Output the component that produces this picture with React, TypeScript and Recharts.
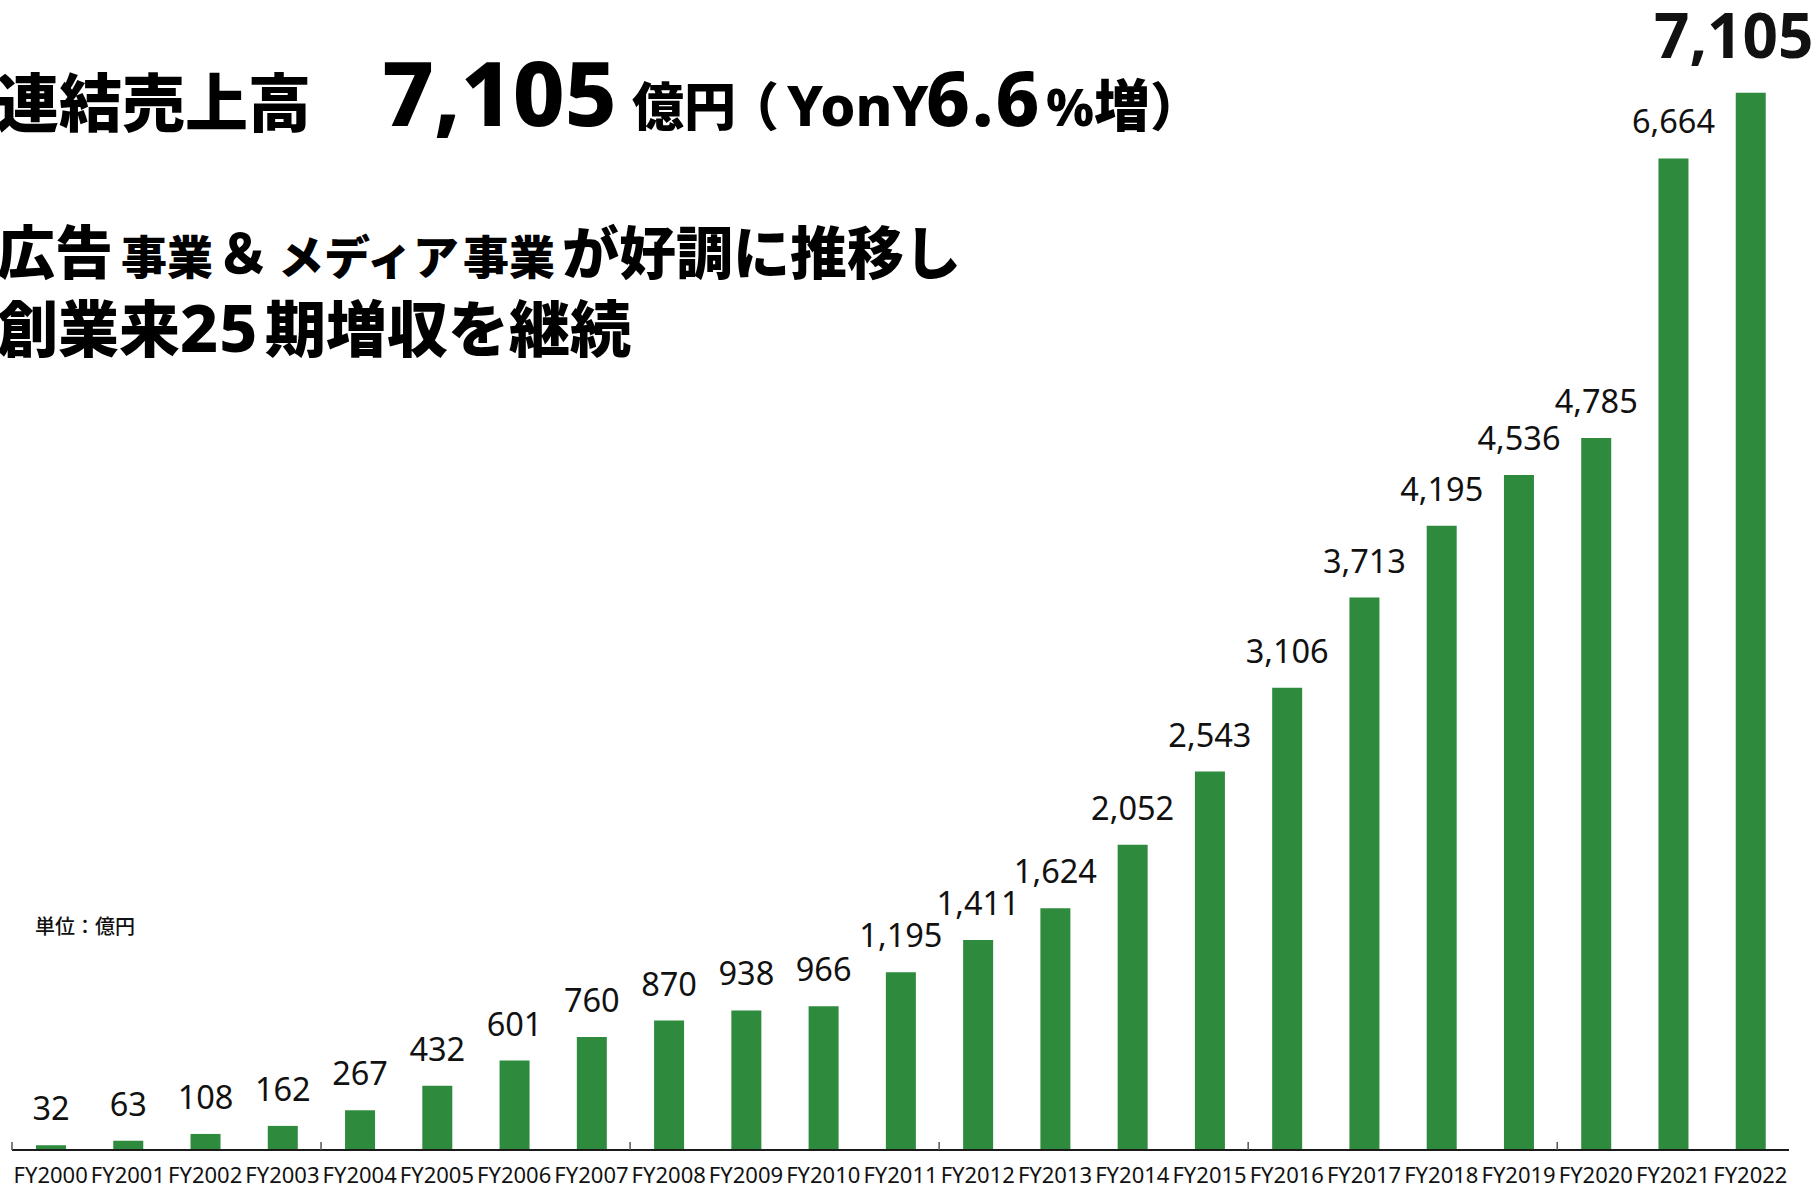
import React from "react";
import { BarChart, Bar, XAxis, YAxis, LabelList } from "recharts";

// 連結売上高（億円）
const years = [
  "FY2000", "FY2001", "FY2002", "FY2003", "FY2004", "FY2005", "FY2006", "FY2007",
  "FY2008", "FY2009", "FY2010", "FY2011", "FY2012", "FY2013", "FY2014", "FY2015",
  "FY2016", "FY2017", "FY2018", "FY2019", "FY2020", "FY2021", "FY2022",
];
const sales = [
  32, 63, 108, 162, 267, 432, 601, 760, 870, 938, 966, 1195,
  1411, 1624, 2052, 2543, 3106, 3713, 4195, 4536, 4785, 6664, 7105,
];

const data = years.map((fy, i) => ({ fy, sales: sales[i] }));

const W = 1816;
const H = 1184;
const margin = { top: 34, right: 27, left: 12, bottom: 0 };
const band = (W - margin.left - margin.right) / years.length;
const GREEN = "#2E8B3D";
const CJK = "'Noto Sans CJK JP', 'Noto Sans', sans-serif";
const LATIN = "'Noto Sans', sans-serif";

const FyTick = (props: any) => {
  const { x, y, index, payload } = props;
  return (
    <g>
      {index % 4 === 0 && (
        <line x1={x - band / 2} x2={x - band / 2} y1={y} y2={y - 8} stroke="#555" strokeWidth={1.5} />
      )}
      <text x={x} y={y + 33} textAnchor="middle" fontSize={22} fill="#111" fontFamily={LATIN}>
        {payload.value}
      </text>
    </g>
  );
};

const ValueLabel = (props: any) => {
  const { x, y, width, value, index } = props;
  const last = index === sales.length - 1;
  return (
    <text
      x={x + width / 2 - (last ? 17 : 0)}
      y={y - (last ? 35 : 25)}
      textAnchor="middle"
      fontSize={last ? 62 : 32.5}
      fontWeight={last ? 700 : 400}
      fill="#111"
      fontFamily={LATIN}
    >
      {Number(value).toLocaleString("en-US")}
    </text>
  );
};

const App = () => {
  return (
    <div style={{ position: "absolute", left: 0, top: 0, width: W, height: H, background: "#fff", overflow: "hidden" }}>
      <BarChart width={W} height={H} data={data} margin={margin}>
        <XAxis
          dataKey="fy"
          interval={0}
          height={34}
          tickSize={0}
          tickMargin={0}
          tickLine={false}
          axisLine={{ stroke: "#1a1a1a", strokeWidth: 2 }}
          tick={<FyTick />}
        />
        <YAxis hide domain={[0, 7500]} />
        <Bar dataKey="sales" fill={GREEN} barSize={30} isAnimationActive={false}>
          <LabelList dataKey="sales" content={<ValueLabel />} />
        </Bar>
      </BarChart>

      <svg width={W} height={H} style={{ position: "absolute", left: 0, top: 0, pointerEvents: "none" }}>
        <g fontFamily={CJK} fontWeight={900} fill="#000">
          <text y={126}>
            <tspan x={-4} fontSize={63}>連結売上高</tspan>
            <tspan x={382} fontSize={90} fontFamily={LATIN} fontWeight={800}>7,105</tspan>
            <tspan x={632} fontSize={52}>億円</tspan>
            <tspan x={727} fontSize={52}>（</tspan>
            <tspan x={787} fontSize={56} fontFamily={LATIN} fontWeight={800}>YonY</tspan>
            <tspan x={926} fontSize={76} fontFamily={LATIN} fontWeight={800} letterSpacing={2}>6.6</tspan>
            <tspan x={1046} fontSize={52} fontFamily={LATIN} fontWeight={800}>%</tspan>
            <tspan x={1094} fontSize={56}>増</tspan>
            <tspan x={1150} fontSize={52}>）</tspan>
          </text>
          <text y={274}>
            <tspan x={-3} fontSize={58}>広告</tspan>
            <tspan x={121} fontSize={46}>事業</tspan>
            <tspan x={216} fontSize={54}>＆</tspan>
            <tspan x={278} fontSize={46}>メディア</tspan>
            <tspan x={463} fontSize={46}>事業</tspan>
            <tspan x={562} fontSize={57}>が好調に推移し</tspan>
          </text>
          <text y={352} fontSize={61}>
            <tspan x={-3}>創業来</tspan>
            <tspan x={180} fontFamily={LATIN} fontWeight={800} fontSize={66} letterSpacing={1}>25</tspan>
            <tspan x={265}>期増収を継続</tspan>
          </text>
        </g>
        <text x={35} y={934} fontSize={20} fontWeight={500} fontFamily={CJK} fill="#111">
          単位：億円
        </text>
      </svg>
    </div>
  );
};

export default App;
